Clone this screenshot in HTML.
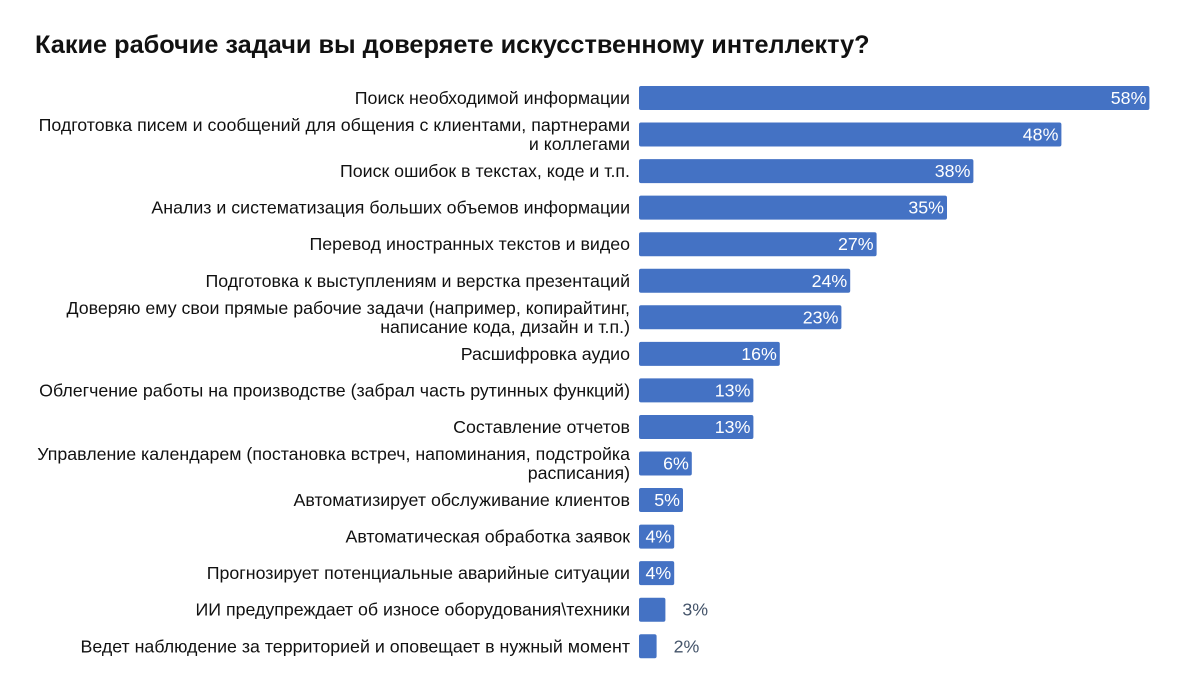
<!DOCTYPE html>
<html><head><meta charset="utf-8">
<style>
body{margin:0;background:#fff;width:1200px;height:688px;overflow:hidden;font-family:"Liberation Sans",Arial,sans-serif;}
</style></head>
<body>
<svg id="chart" width="1200" height="688" xmlns="http://www.w3.org/2000/svg">
<text x="35" y="53" font-family="Liberation Sans, sans-serif" font-size="25.3" font-weight="bold" fill="#111">Какие рабочие задачи вы доверяете искусственному интеллекту?</text>
<g id="bars"></g>
</svg>
<script>
const categories = [
 ["Поиск необходимой информации"],
 ["Подготовка писем и сообщений для общения с клиентами, партнерами","и коллегами"],
 ["Поиск ошибок в текстах, коде и т.п."],
 ["Анализ и систематизация больших объемов информации"],
 ["Перевод иностранных текстов и видео"],
 ["Подготовка к выступлениям и верстка презентаций"],
 ["Доверяю ему свои прямые рабочие задачи (например, копирайтинг,","написание кода, дизайн и т.п.)"],
 ["Расшифровка аудио"],
 ["Облегчение работы на производстве (забрал часть рутинных функций)"],
 ["Составление отчетов"],
 ["Управление календарем (постановка встреч, напоминания, подстройка","расписания)"],
 ["Автоматизирует обслуживание клиентов"],
 ["Автоматическая обработка заявок"],
 ["Прогнозирует потенциальные аварийные ситуации"],
 ["ИИ предупреждает об износе оборудования\\техники"],
 ["Ведет наблюдение за территорией и оповещает в нужный момент"]
];
const values = [58,48,38,35,27,24,23,16,13,13,6,5,4,4,3,2];
const valueLabels = ["58%","48%","38%","35%","27%","24%","23%","16%","13%","13%","6%","5%","4%","4%","3%","2%"];

const x0 = 639, pxPer = 8.8;
const xScale = v => v * pxPer;
const yCenter = i => 98 + i * 36.55;
const NS = "http://www.w3.org/2000/svg";
const g = document.getElementById("bars");
function mk(tag, attrs){const e=document.createElementNS(NS,tag);for(const k in attrs)e.setAttribute(k,attrs[k]);return e;}
values.forEach((v,i)=>{
  const cy = yCenter(i), w = xScale(v);
  const r = mk("rect",{x:x0,y:cy-12,width:w,height:24,rx:2,fill:"#4472c4"});
  
  
  g.appendChild(r);
  const lines = categories[i];
  lines.forEach((ln,j)=>{
    const t = mk("text",{x:630,y:cy+6+(j-(lines.length-1)/2)*19,"text-anchor":"end","font-size":"17.8",fill:"#111"});
    t.textContent = ln;
    
    
    g.appendChild(t);
  });
  const inside = v >= 4;
  const vt = mk("text",{x: inside ? x0+w-3 : x0+w+17, y: cy+6, "text-anchor": inside?"end":"start","font-size":"17.8",fill: inside?"#fff":"#44546a"});
  vt.textContent = valueLabels[i];
  
  
  g.appendChild(vt);
});
</script>
</body></html>
